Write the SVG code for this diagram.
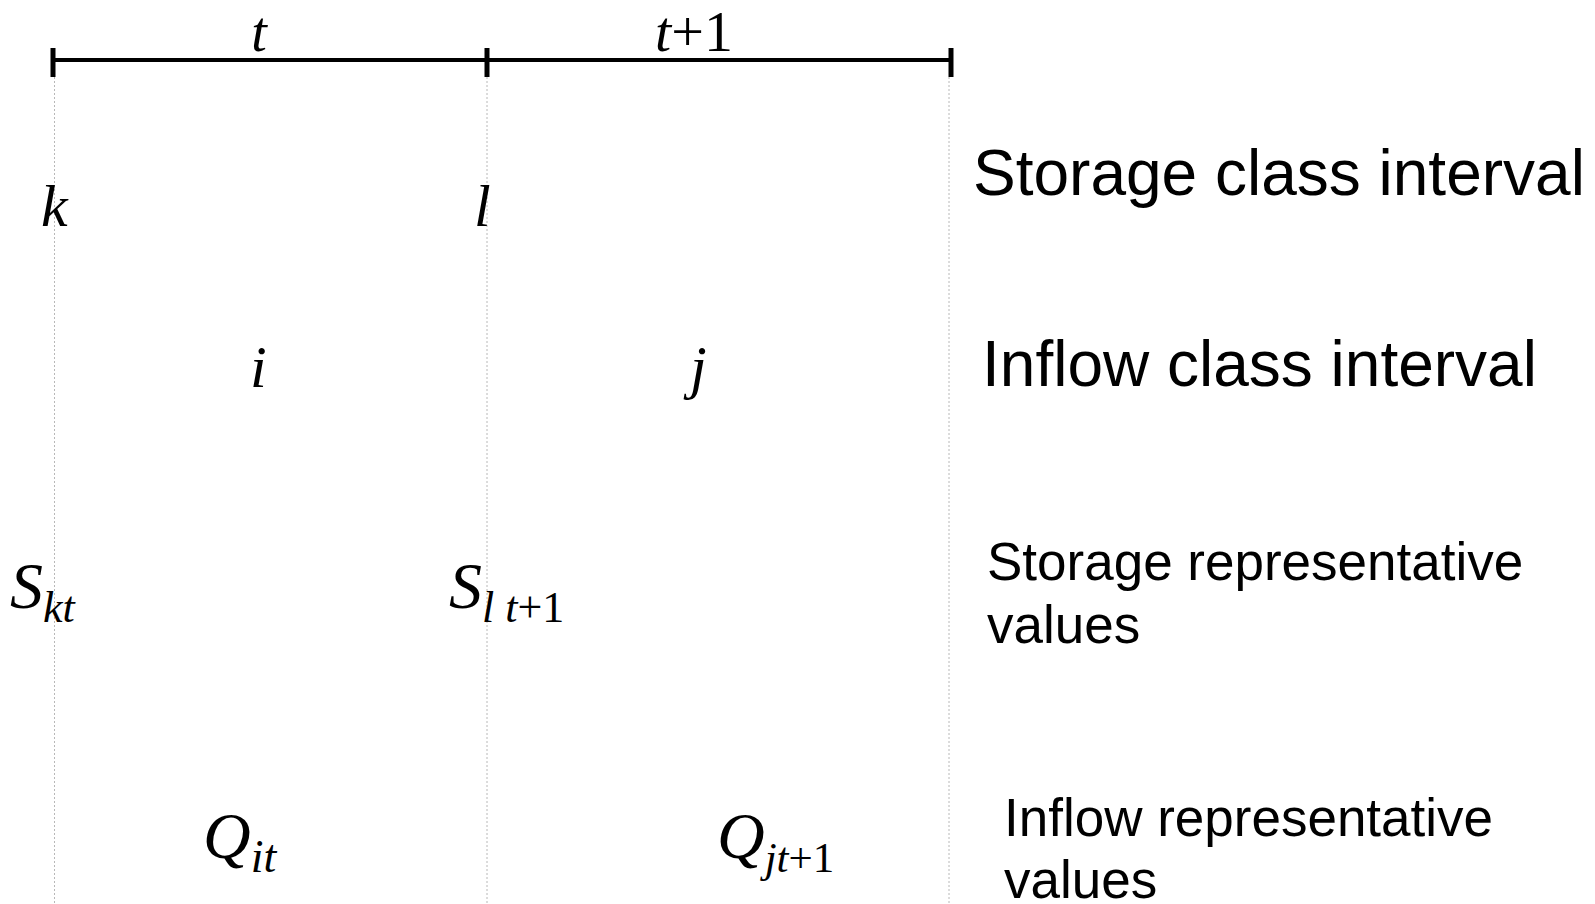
<svg xmlns="http://www.w3.org/2000/svg" width="1595" height="904" viewBox="0 0 1595 904">
<style>
.m{font-family:"Liberation Serif","Times New Roman",serif;font-style:italic;fill:#000}
.n{font-family:"Liberation Serif","Times New Roman",serif;font-style:normal}
.lab{font-family:"Liberation Sans",Arial,sans-serif;fill:#000}
.guide{stroke:#b8b8b8;stroke-width:1;stroke-dasharray:2 2;fill:none}
.bar{stroke:#000;stroke-width:4;fill:none}
.tick{stroke:#000;stroke-width:5;fill:none}
</style>
<rect width="1595" height="904" fill="#fff"/>
<g id="connectors">
<line class="guide" x1="54.5" y1="77" x2="54.5" y2="904"/>
<line class="guide" x1="487" y1="77" x2="487" y2="904"/>
<line class="guide" x1="949" y1="77" x2="949" y2="904"/>
<line class="bar" x1="53" y1="60" x2="951" y2="60"/>
<line class="tick" x1="53" y1="48" x2="53" y2="77"/>
<line class="tick" x1="487" y1="48" x2="487" y2="77"/>
<line class="tick" x1="951" y1="48" x2="951" y2="77"/>
</g>
<g id="label-t"><text class="m" x="259" y="51" font-size="56" text-anchor="middle">t</text></g>
<g id="label-t1"><text class="m" x="694" y="51" font-size="58" text-anchor="middle">t<tspan class="n">+1</tspan></text></g>
<g id="label-k"><text class="m" x="41" y="226" font-size="60">k</text></g>
<g id="label-l"><text class="m" x="474" y="226" font-size="60">l</text></g>
<g id="label-i"><text class="m" x="250" y="387" font-size="60">i</text></g>
<g id="label-j"><text class="m" x="690" y="387" font-size="60">j</text></g>
<g id="label-Skt"><text class="m" x="10" y="608" font-size="66">S<tspan font-size="44" dy="14">kt</tspan></text></g>
<g id="label-Slt1"><text class="m" x="449" y="608" font-size="66">S<tspan font-size="44" dy="14">l t</tspan><tspan class="n" font-size="44">+1</tspan></text></g>
<g id="label-Qit"><text class="m" x="203" y="858" font-size="66">Q<tspan font-size="46" dy="14">it</tspan></text></g>
<g id="label-Qjt1"><text class="m" x="717" y="858" font-size="66">Q<tspan font-size="43" dy="14">jt</tspan><tspan class="n" font-size="43">+1</tspan></text></g>
<g id="storage-class"><text class="lab" x="973" y="195" font-size="64">Storage class interval</text></g>
<g id="inflow-class"><text class="lab" x="982" y="386" font-size="64">Inflow class interval</text></g>
<g id="storage-rep"><text class="lab" x="987" y="580" font-size="53">Storage representative<tspan x="987" dy="63">values</tspan></text></g>
<g id="inflow-rep"><text class="lab" x="1004" y="836" font-size="53">Inflow representative<tspan x="1004" dy="62">values</tspan></text></g>
</svg>
